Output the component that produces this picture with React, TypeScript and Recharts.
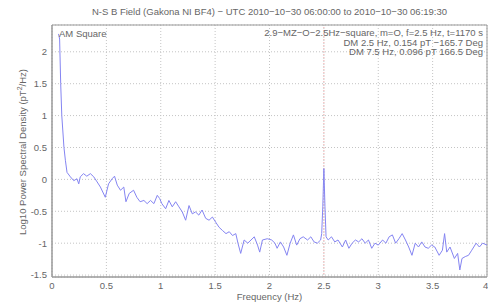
import {
  LineChart,
  Line,
  XAxis,
  YAxis,
  CartesianGrid,
  ReferenceLine,
  ReferenceArea,
} from 'recharts';

// frequency (Hz) and log10 PSD values
const freqs = [
  0.06, 0.07, 0.08, 0.09, 0.11, 0.123, 0.138, 0.169, 0.2, 0.23, 0.246, 0.26, 0.29, 0.32, 0.353,
  0.384, 0.415, 0.445, 0.49, 0.52, 0.553, 0.575, 0.6, 0.63, 0.66, 0.68, 0.71, 0.75, 0.78, 0.81,
  0.845, 0.875, 0.906, 0.937, 0.968, 0.99, 1.01, 1.045, 1.075, 1.106, 1.137, 1.167, 1.198, 1.229,
  1.26, 1.29, 1.32, 1.35, 1.38, 1.413, 1.444, 1.475, 1.505, 1.536, 1.567, 1.6, 1.63, 1.66, 1.69,
  1.71, 1.735, 1.767, 1.8, 1.83, 1.86, 1.89, 1.91, 1.935, 1.98, 2.02, 2.05, 2.07, 2.1, 2.13, 2.16,
  2.19, 2.22, 2.25, 2.28, 2.31, 2.35, 2.38, 2.41, 2.44, 2.47, 2.48, 2.49, 2.5, 2.51, 2.52, 2.54,
  2.57, 2.6, 2.63, 2.67, 2.7, 2.73, 2.76, 2.79, 2.82, 2.85, 2.88, 2.91, 2.94, 2.97, 3.0, 3.04,
  3.07, 3.1, 3.13, 3.16, 3.19, 3.22, 3.25, 3.28, 3.31, 3.34, 3.37, 3.4, 3.43, 3.46, 3.49, 3.52,
  3.56, 3.59, 3.61, 3.63, 3.66, 3.7, 3.73, 3.75, 3.77, 3.8, 3.83, 3.86, 3.9, 3.93, 3.96, 4.0,
];

const psd = [
  2.28, 2.2, 1.5, 1.0, 0.5, 0.3, 0.11, 0.04, -0.02, 0.01, -0.07, 0.04, 0.09, 0.05, 0.09,
  0.04, -0.04, -0.12, -0.28, -0.07, 0.01, 0.05, -0.09, -0.17, -0.12, -0.35, -0.22, -0.17, -0.28, -0.35,
  -0.33, -0.38, -0.33, -0.38, -0.25, -0.3, -0.38, -0.46, -0.33, -0.43, -0.35, -0.43, -0.51, -0.64,
  -0.41, -0.54, -0.51, -0.56, -0.48, -0.61, -0.64, -0.59, -0.67, -0.75, -0.8, -0.85, -0.82, -0.88, -0.85,
  -1.0, -1.16, -0.95, -1.0, -0.95, -0.9, -1.03, -1.14, -0.95, -0.93, -0.95, -1.0, -1.08, -0.98, -1.06, -1.19,
  -1.0, -0.87, -1.03, -0.93, -0.9, -0.95, -0.9, -0.98, -1.0, -0.95, -0.85, -0.43, 0.17, -0.43, -0.9, -0.95,
  -0.9, -0.98, -0.95, -1.06, -0.95, -1.08, -1.0, -0.95, -0.98, -0.93, -1.0, -0.95, -1.08, -1.0, -1.03, -0.95,
  -1.0, -0.9, -0.87, -1.0, -0.93, -0.85, -0.95, -1.06, -1.19, -1.0, -1.06, -0.98, -1.06, -1.08, -1.03, -1.06,
  -1.19, -1.11, -0.85, -1.14, -1.06, -1.24, -1.16, -1.42, -1.24, -1.21, -1.19, -1.11, -1.0, -1.06, -1.0, -1.03,
];

const xTicks = [0, 0.5, 1, 1.5, 2, 2.5, 3, 3.5, 4];
const yTicks = [-1.5, -1, -0.5, 0, 0.5, 1, 1.5, 2];

const title = 'N-S B Field (Gakona NI BF4) \u2212 UTC 2010\u221210\u221230 06:00:00 to 2010\u221210\u221230 06:19:30';
const infoLines = [
  '2.9\u2212MZ\u2212O\u22122.5Hz\u2212square, m=O, f=2.5 Hz, t=1170 s',
  'DM 2.5 Hz, 0.154 pT \u2212165.7 Deg',
  'DM 7.5 Hz, 0.096 pT 166.5 Deg',
];

const data = freqs.map((f, i) => ({ f, v: psd[i] }));

const font = '"Liberation Sans", Arial, sans-serif';
const textColor = '#666';
const fs = 9.5;

export default function App() {
  return (
    <div
      style={{
        position: 'absolute',
        left: 0,
        top: 0,
        width: 488,
        height: 303,
        background: '#fff',
        fontFamily: font,
      }}
    >
      <LineChart
        width={488}
        height={303}
        data={data}
        margin={{ top: 25, right: 1, bottom: 0, left: 0 }}
      >
        <CartesianGrid stroke="#c4c4c4" strokeDasharray="1 2" />
        <XAxis
          dataKey="f"
          type="number"
          domain={[0, 4]}
          ticks={xTicks}
          height={26}
          tick={{ fontSize: fs, fill: textColor, fontFamily: font }}
          tickLine={false}
          tickSize={3}
          tickMargin={2}
          axisLine={{ stroke: '#999' }}
          allowDataOverflow
        />
        <YAxis
          type="number"
          domain={[-1.53, 2.42]}
          ticks={yTicks}
          width={52}
          tick={{ fontSize: fs, fill: textColor, fontFamily: font }}
          tickLine={false}
          tickSize={3}
          tickMargin={2}
          axisLine={{ stroke: '#999' }}
          allowDataOverflow
        />
        <ReferenceArea
          x1={0}
          x2={4}
          y1={-1.53}
          y2={2.42}
          fill="none"
          stroke="#999"
          ifOverflow="visible"
        />
        <ReferenceLine x={2.5} stroke="#f2a8a8" strokeDasharray="1 2" />
        <Line
          type="linear"
          dataKey="v"
          stroke="#8585f2"
          strokeWidth={1}
          dot={false}
          isAnimationActive={false}
        />
      </LineChart>

      <div
        style={{
          position: 'absolute',
          left: 52,
          width: 435,
          top: 6,
          textAlign: 'center',
          fontSize: fs,
          color: textColor,
          whiteSpace: 'nowrap',
        }}
      >
        {title}
      </div>
      <div
        style={{
          position: 'absolute',
          left: 59,
          top: 28,
          fontSize: fs,
          color: textColor,
        }}
      >
        AM Square
      </div>
      <div
        style={{
          position: 'absolute',
          right: 5,
          top: 28,
          fontSize: fs,
          lineHeight: '9.5px',
          color: textColor,
          textAlign: 'right',
          whiteSpace: 'nowrap',
        }}
      >
        {infoLines.map((l) => (
          <div key={l}>{l}</div>
        ))}
      </div>
      <div
        style={{
          position: 'absolute',
          left: 52,
          width: 435,
          top: 291,
          textAlign: 'center',
          fontSize: fs,
          color: textColor,
        }}
      >
        Frequency (Hz)
      </div>
      <div
        style={{
          position: 'absolute',
          left: 22,
          top: 152,
          transform: 'translate(-50%, -50%) rotate(-90deg)',
          fontSize: fs,
          color: textColor,
          whiteSpace: 'nowrap',
        }}
      >
        Log10 Power Spectral Density (pT<sup style={{ fontSize: 7 }}>2</sup>/Hz)
      </div>
    </div>
  );
}
